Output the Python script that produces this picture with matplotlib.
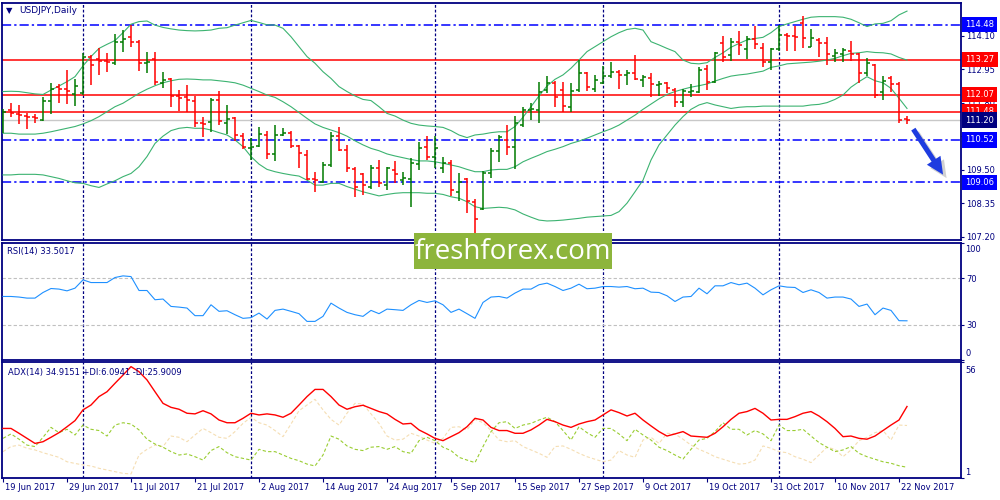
import numpy as np
import matplotlib.pyplot as plt
import matplotlib.transforms as mtransforms
from matplotlib.patches import Rectangle, FancyArrowPatch

# ---- USDJPY daily bars, 19 Jun 2017 .. 23 Nov 2017 ----
open_ = np.array([
    111.15, 111.55, 111.41, 111.34, 111.30, 111.19, 111.87, 112.32, 112.27, 112.08,
    112.12, 113.37, 113.28, 113.24, 113.15, 113.88, 114.04, 113.89, 113.17, 113.28,
    112.48, 112.60, 112.03, 111.98, 111.87, 111.09, 111.13, 111.89, 111.09, 111.26,
    110.65, 110.26, 110.31, 110.69, 110.04, 110.68, 110.77, 110.31, 110.01, 109.17,
    109.09, 109.66, 110.66, 110.17, 109.51, 109.35, 108.90, 109.55, 108.99, 109.48,
    109.14, 109.17, 109.69, 110.27, 109.95, 109.55, 109.72, 108.74, 109.17, 108.40,
    108.14, 109.39, 110.15, 110.52, 110.27, 111.03, 111.55, 111.55, 112.23, 112.48,
    112.23, 111.66, 112.23, 112.83, 112.27, 112.48, 112.72, 112.86, 112.74, 112.83,
    112.58, 112.63, 112.40, 112.46, 112.23, 111.82, 112.17, 112.17, 112.94, 112.52,
    113.83, 113.43, 113.89, 113.63, 113.97, 113.66, 113.20, 113.63, 114.12, 114.09,
    114.54, 113.72, 113.95, 113.86, 113.40, 113.47, 113.58, 113.47, 112.80, 113.09,
    112.17, 112.63, 112.44, 111.23])
high = np.array([
    111.57, 111.78, 111.72, 111.46, 111.41, 111.98, 112.48, 112.43, 112.92, 112.61,
    113.49, 113.43, 113.66, 113.49, 114.15, 114.29, 114.48, 113.95, 113.55, 113.55,
    112.85, 112.66, 112.23, 112.39, 112.03, 111.30, 111.95, 112.20, 111.72, 111.30,
    110.77, 110.58, 110.98, 110.84, 111.03, 110.93, 110.84, 110.35, 110.17, 109.41,
    109.77, 110.80, 110.95, 110.35, 109.58, 109.40, 109.66, 109.83, 109.60, 109.81,
    109.42, 109.89, 110.46, 110.66, 110.66, 109.95, 109.83, 109.37, 109.23, 108.48,
    109.46, 110.23, 110.69, 111.03, 111.34, 111.64, 111.78, 112.52, 112.72, 112.55,
    112.52, 112.48, 113.26, 112.86, 112.75, 113.06, 113.19, 112.92, 112.92, 113.43,
    112.75, 112.83, 112.55, 112.52, 112.29, 112.26, 112.44, 113.03, 113.09, 113.55,
    114.09, 114.00, 114.27, 114.09, 114.43, 113.83, 113.69, 114.46, 114.20, 114.43,
    114.77, 114.31, 114.00, 114.04, 113.63, 113.69, 113.92, 113.49, 113.32, 113.12,
    112.71, 112.71, 112.52, 111.34])
low = np.array([
    110.75, 111.30, 111.07, 110.91, 111.11, 111.17, 111.41, 111.80, 111.75, 111.70,
    112.06, 112.40, 112.75, 112.85, 113.09, 113.54, 113.70, 112.90, 112.83, 112.40,
    112.30, 111.66, 111.52, 111.48, 110.98, 110.61, 110.80, 111.03, 110.72, 110.49,
    110.20, 109.83, 110.27, 109.85, 109.81, 110.66, 110.24, 109.55, 109.14, 108.72,
    109.03, 109.60, 110.15, 109.43, 108.57, 108.62, 108.84, 108.89, 108.80, 109.05,
    108.97, 108.23, 109.49, 109.83, 109.55, 109.37, 108.60, 108.44, 108.02, 107.34,
    108.11, 109.23, 109.77, 110.00, 109.51, 110.98, 111.20, 111.09, 112.12, 111.64,
    111.48, 111.48, 112.18, 112.21, 112.17, 112.44, 112.64, 112.28, 112.39, 112.57,
    112.32, 111.98, 112.04, 112.12, 111.66, 111.64, 111.98, 112.12, 112.23, 112.48,
    113.20, 113.24, 113.43, 113.28, 113.63, 113.03, 112.92, 113.58, 113.58, 113.58,
    113.66, 113.70, 113.37, 113.09, 113.20, 113.20, 113.24, 112.48, 112.71, 111.95,
    111.89, 112.18, 111.11, 111.07])
close = np.array([
    111.48, 111.43, 111.36, 111.30, 111.26, 111.87, 112.28, 112.28, 112.20, 112.37,
    113.35, 113.09, 113.24, 113.19, 113.87, 113.97, 113.89, 113.17, 113.18, 112.52,
    112.57, 112.03, 111.96, 111.89, 111.09, 111.07, 111.89, 111.17, 111.23, 110.69,
    110.29, 110.27, 110.72, 110.04, 110.69, 110.75, 110.31, 110.06, 109.17, 109.14,
    109.66, 110.66, 110.17, 109.55, 108.92, 108.97, 109.55, 109.05, 109.55, 109.35,
    109.20, 109.72, 110.23, 109.95, 110.25, 109.74, 108.80, 109.09, 108.44, 107.80,
    109.39, 110.15, 110.61, 110.27, 111.09, 111.55, 111.57, 112.18, 112.48, 111.98,
    111.69, 112.21, 112.80, 112.32, 112.58, 112.72, 112.85, 112.75, 112.80, 112.62,
    112.67, 112.44, 112.44, 112.29, 111.82, 112.21, 112.19, 112.92, 112.52, 113.49,
    113.38, 113.89, 113.77, 113.97, 113.81, 113.18, 113.63, 114.12, 114.09, 114.06,
    114.00, 114.00, 113.86, 113.47, 113.51, 113.60, 113.47, 112.83, 113.15, 112.06,
    112.55, 112.44, 111.20, 111.20])

# Bollinger Bands(20, 2) as drawn
bb_upper = np.array([
    112.18, 112.19, 112.18, 112.14, 112.10, 112.08, 112.23, 112.37, 112.52, 112.69,
    113.06, 113.38, 113.66, 113.80, 113.93, 114.20, 114.49, 114.58, 114.60, 114.46,
    114.38, 114.33, 114.29, 114.27, 114.26, 114.27, 114.29, 114.35, 114.37, 114.46,
    114.54, 114.62, 114.55, 114.47, 114.46, 114.35, 114.06, 113.72, 113.38, 113.15,
    112.86, 112.63, 112.35, 112.18, 112.03, 111.91, 111.87, 111.66, 111.43, 111.34,
    111.20, 111.09, 111.03, 111.00, 110.98, 110.95, 110.84, 110.69, 110.60, 110.69,
    110.72, 110.77, 110.80, 110.80, 110.98, 111.30, 111.66, 112.03, 112.37, 112.60,
    112.75, 112.98, 113.26, 113.55, 113.72, 113.89, 114.06, 114.20, 114.31, 114.35,
    114.29, 113.89, 113.78, 113.66, 113.55, 113.26, 113.15, 113.13, 113.17, 113.35,
    113.51, 113.70, 113.83, 113.95, 114.00, 114.04, 114.20, 114.41, 114.50, 114.58,
    114.66, 114.73, 114.75, 114.75, 114.75, 114.73, 114.66, 114.54, 114.41, 114.50,
    114.52, 114.61, 114.81, 114.94])
bb_middle = np.array([
    110.75, 110.75, 110.72, 110.72, 110.72, 110.75, 110.80, 110.86, 110.92, 110.98,
    111.07, 111.18, 111.32, 111.49, 111.66, 111.78, 111.95, 112.12, 112.26, 112.38,
    112.48, 112.55, 112.60, 112.61, 112.60, 112.58, 112.58, 112.55, 112.52, 112.48,
    112.40, 112.29, 112.18, 112.06, 111.98, 111.83, 111.66, 111.46, 111.26, 111.07,
    110.95, 110.86, 110.77, 110.65, 110.49, 110.35, 110.23, 110.15, 110.04, 109.97,
    109.91, 109.85, 109.80, 109.80, 109.77, 109.72, 109.66, 109.60, 109.51, 109.43,
    109.43, 109.49, 109.51, 109.51, 109.60, 109.77, 109.89, 110.00, 110.12, 110.20,
    110.29, 110.40, 110.48, 110.58, 110.69, 110.80, 110.90, 111.03, 111.20, 111.37,
    111.57, 111.75, 111.93, 112.08, 112.18, 112.26, 112.33, 112.38, 112.44, 112.54,
    112.63, 112.71, 112.75, 112.78, 112.83, 112.88, 113.01, 113.06, 113.13, 113.15,
    113.17, 113.19, 113.22, 113.26, 113.32, 113.41, 113.49, 113.51, 113.55, 113.52,
    113.51, 113.47, 113.35, 113.26])
bb_lower = np.array([
    109.32, 109.32, 109.34, 109.34, 109.34, 109.32, 109.26, 109.20, 109.12, 109.05,
    109.03, 108.95, 108.89, 109.01, 109.12, 109.26, 109.37, 109.60, 109.95, 110.40,
    110.65, 110.84, 110.92, 110.95, 110.92, 110.92, 110.86, 110.77, 110.69, 110.52,
    110.29, 109.95, 109.69, 109.51, 109.43, 109.37, 109.32, 109.28, 109.14, 108.97,
    108.97, 109.03, 109.03, 108.92, 108.83, 108.74, 108.67, 108.60, 108.65, 108.69,
    108.71, 108.71, 108.71, 108.69, 108.69, 108.65, 108.57, 108.52, 108.40, 108.23,
    108.17, 108.19, 108.21, 108.19, 108.12, 107.98, 107.87, 107.77, 107.74, 107.75,
    107.77, 107.80, 107.83, 107.87, 107.89, 107.91, 107.93, 108.06, 108.35, 108.74,
    109.14, 109.83, 110.35, 110.69, 111.03, 111.32, 111.57, 111.72, 111.80, 111.72,
    111.66, 111.60, 111.64, 111.66, 111.66, 111.68, 111.68, 111.68, 111.68, 111.68,
    111.68, 111.72, 111.74, 111.80, 111.91, 112.06, 112.33, 112.52, 112.69, 112.55,
    112.48, 112.29, 111.95, 111.60])

rsi = np.array([
    54.3, 54.3, 53.8, 52.9, 52.9, 57.7, 61.1, 60.6, 59.1, 61.4,
    68.5, 66.2, 66.2, 66.2, 70.5, 71.9, 71.3, 59.4, 59.4, 51.5,
    52.1, 45.8, 45.2, 44.4, 37.9, 37.9, 47.2, 41.6, 42.1, 38.7,
    35.6, 36.2, 40.1, 35.0, 42.4, 43.5, 41.6, 39.6, 33.0, 33.0,
    37.3, 48.6, 44.4, 40.7, 38.7, 37.3, 42.4, 39.6, 43.5, 43.0,
    42.4, 47.2, 50.9, 49.2, 50.6, 47.2, 40.7, 43.5, 39.6, 35.6,
    49.2, 53.8, 54.3, 52.9, 57.2, 60.6, 60.6, 64.3, 65.7, 62.8,
    59.4, 61.4, 64.8, 60.9, 61.4, 62.8, 62.8, 62.3, 62.8, 60.9,
    61.4, 58.0, 57.7, 54.9, 50.0, 53.8, 54.3, 61.4, 56.6, 63.4,
    63.4, 66.2, 64.3, 65.7, 61.4, 55.7, 60.0, 63.4, 62.3, 62.0,
    57.7, 60.0, 57.7, 52.9, 53.8, 53.8, 52.1, 45.8, 47.8, 38.7,
    44.4, 42.4, 33.6, 33.5])

adx = np.array([
    24.5, 24.5, 22.2, 19.8, 17.4, 18.2, 20.3, 22.5, 25.3, 28.2,
    33.3, 35.6, 39.6, 41.9, 45.9, 49.8, 53.8, 51.4, 47.5, 41.9,
    36.4, 34.5, 33.6, 31.7, 31.4, 32.9, 31.4, 28.5, 27.2, 27.2,
    29.3, 31.7, 30.9, 31.4, 30.9, 29.8, 31.7, 35.6, 39.6, 43.0,
    43.0, 39.6, 35.6, 33.6, 34.8, 35.5, 34.0, 32.5, 31.4, 28.8,
    26.6, 26.9, 23.8, 21.9, 19.8, 18.7, 20.6, 22.5, 25.3, 29.3,
    28.5, 25.0, 23.5, 23.5, 22.2, 22.2, 23.8, 26.1, 28.8, 27.7,
    26.1, 25.0, 26.6, 27.7, 28.5, 30.9, 33.3, 32.0, 30.4, 31.7,
    28.5, 25.7, 23.0, 20.9, 21.9, 23.0, 20.9, 20.6, 20.3, 22.2,
    25.3, 28.8, 31.7, 32.5, 34.0, 31.7, 28.5, 28.8, 28.8, 30.1,
    31.7, 32.5, 30.4, 27.7, 24.5, 20.6, 20.9, 19.8, 19.4, 20.9,
    23.5, 26.1, 28.5, 34.9])
plus_di = np.array([
    19.8, 21.9, 19.4, 16.6, 15.9, 20.3, 25.0, 22.5, 24.1, 21.4,
    26.1, 24.1, 23.5, 20.9, 26.1, 27.2, 26.6, 23.8, 19.4, 17.1,
    15.6, 13.5, 11.9, 12.4, 11.1, 9.5, 14.0, 15.9, 13.0, 11.1,
    10.3, 9.5, 14.6, 13.5, 13.5, 11.9, 10.3, 9.2, 7.6, 6.7,
    11.9, 20.9, 19.4, 16.2, 14.6, 14.0, 15.6, 15.9, 14.6, 15.9,
    13.5, 12.7, 18.7, 20.3, 18.7, 15.6, 14.0, 10.8, 9.5, 8.3,
    15.9, 23.0, 27.2, 27.7, 24.5, 26.1, 26.9, 28.5, 29.8, 27.7,
    23.5, 19.0, 25.3, 22.5, 20.3, 24.5, 24.5, 21.9, 18.7, 24.1,
    21.4, 19.0, 15.6, 14.0, 11.9, 10.0, 14.6, 19.0, 19.8, 23.0,
    27.2, 24.1, 24.1, 21.4, 23.5, 21.9, 18.7, 26.1, 23.5, 23.5,
    24.1, 20.9, 17.8, 15.6, 13.5, 14.3, 15.9, 12.7, 11.1, 9.9,
    8.7, 8.0, 6.8, 6.1])
minus_di = np.array([
    13.5, 15.9, 16.6, 15.1, 14.3, 13.0, 11.9, 10.8, 8.7, 7.9,
    7.2, 6.7, 5.6, 4.8, 4.0, 3.2, 2.9, 11.9, 14.6, 16.6,
    15.9, 20.9, 20.3, 18.2, 21.4, 24.5, 22.5, 20.3, 19.8, 23.0,
    26.9, 29.8, 27.2, 26.1, 23.5, 20.6, 26.6, 32.9, 35.6, 38.3,
    33.3, 28.8, 26.1, 31.7, 36.4, 36.1, 31.4, 26.9, 20.9, 19.0,
    19.4, 22.2, 20.9, 19.0, 17.4, 19.8, 25.0, 25.3, 23.8, 28.8,
    27.2, 23.5, 19.0, 18.2, 18.7, 15.9, 14.3, 12.7, 10.8, 15.9,
    16.2, 14.6, 12.7, 11.1, 9.9, 8.7, 9.5, 14.0, 11.9, 10.8,
    19.0, 20.3, 17.4, 22.2, 21.9, 19.4, 16.6, 14.6, 13.0, 11.1,
    9.9, 8.7, 7.6, 7.9, 9.5, 16.2, 15.1, 13.5, 13.0, 11.1,
    9.9, 8.3, 11.9, 15.6, 14.6, 11.1, 14.3, 18.7, 20.3, 22.5,
    23.5, 19.0, 26.1, 25.9])

date_labels = ['19 Jun 2017', '29 Jun 2017', '11 Jul 2017', '21 Jul 2017', '2 Aug 2017',
               '14 Aug 2017', '24 Aug 2017', '5 Sep 2017', '15 Sep 2017', '27 Sep 2017',
               '9 Oct 2017', '19 Oct 2017', '31 Oct 2017', '10 Nov 2017', '22 Nov 2017']
month_starts = [10, 31, 54, 75, 97]   # first bar of Jul, Aug, Sep, Oct, Nov

red_levels = [113.27, 112.07, 111.48]
blue_levels = [114.48, 110.52, 109.06]
last_price = 111.20
price_ticks = [114.10, 112.95, 111.80, 110.65, 109.50, 108.35, 107.20]

# forecast arrow (bar index, price)
arrow_from = (113.6, 110.97)
arrow_to = (117.7, 109.25)

NAVY = '#000080'
GREEN = '#007A00'
RED = '#FF0000'
BLUE = '#0000FF'
BB = '#3CB371'
W, H = 1000, 500

fig = plt.figure(figsize=(10, 5), dpi=100)
fig.patch.set_facecolor('white')


def px_axes(top, bottom, left=2, right=961):
    return fig.add_axes([left / W, 1 - bottom / H, (right - left) / W, (bottom - top) / H])


ax_p = px_axes(2.5, 240)
ax_r = px_axes(243, 360)
ax_a = px_axes(362, 478)
idx = np.arange(len(close))

for ax in (ax_p, ax_r, ax_a):
    ax.set_xlim(-0.125, 119.75)
    for s in ax.spines.values():
        s.set_color(NAVY)
        s.set_linewidth(1.3)
    ax.tick_params(axis='y', left=False, labelleft=False, right=True, labelright=True,
                   length=2.5, width=0.8, colors=NAVY, labelsize=6, pad=1.5)
    ax.tick_params(axis='x', bottom=False, labelbottom=False)
    for m in month_starts:
        ax.axvline(m, color=NAVY, lw=0.9, ls=(0, (2.2, 1.6)), zorder=1)

# ---- price panel ----
ax_p.set_ylim(107.087, 115.235)
for lv in red_levels:
    ax_p.axhline(lv, color=RED, lw=1.1, zorder=2)
for lv in blue_levels:
    ax_p.axhline(lv, color=BLUE, lw=1.1, ls=(0, (6, 2, 1.5, 2)), zorder=2)
ax_p.axhline(last_price, color='#C8C8C8', lw=1.0, zorder=1.5)

ax_p.plot(idx, bb_upper, color=BB, lw=0.8, zorder=3)
ax_p.plot(idx, bb_middle, color=BB, lw=0.8, zorder=3)
ax_p.plot(idx, bb_lower, color=BB, lw=0.8, zorder=3)

bar_col = np.where(close >= open_, GREEN, RED)
ax_p.vlines(idx, low, high, colors=bar_col, lw=1.1, zorder=4)
ax_p.hlines(open_, idx - 0.38, idx, colors=bar_col, lw=1.1, zorder=4)
ax_p.hlines(close, idx, idx + 0.38, colors=bar_col, lw=1.1, zorder=4)

ax_p.set_yticks(price_ticks)
ax_p.set_yticklabels([f'{t:.2f}' for t in price_ticks])

trans_p = mtransforms.blended_transform_factory(ax_p.transAxes, ax_p.transData)
box_levels = [(lv, BLUE) for lv in blue_levels] + [(lv, RED) for lv in red_levels] + [(last_price, NAVY)]
for lv, fc in box_levels:
    ax_p.text(1.0045, lv, f'{lv:.2f}', transform=trans_p, ha='left', va='center',
              fontsize=6, color='white', clip_on=False, zorder=6,
              bbox=dict(boxstyle='square,pad=0.38', fc=fc, ec='none'))

shadow_tr = ax_p.transData + mtransforms.ScaledTranslation(2.5 / 72, -2.5 / 72, fig.dpi_scale_trans)
arrow_style = 'simple,head_length=0.95,head_width=0.9,tail_width=0.28'
ax_p.add_patch(FancyArrowPatch(arrow_from, arrow_to, arrowstyle=arrow_style, mutation_scale=13,
                               color='#9A9A9A', alpha=0.45, lw=0, transform=shadow_tr, zorder=5))
ax_p.add_patch(FancyArrowPatch(arrow_from, arrow_to, arrowstyle=arrow_style, mutation_scale=13,
                               color='#1E3CE0', lw=0, zorder=6))

# ---- RSI panel ----
ax_r.set_ylim(0, 100)
for lv in (70, 30):
    ax_r.axhline(lv, color='#C0C0C0', lw=0.8, ls=(0, (3, 2)), zorder=1)
ax_r.plot(idx, rsi, color='#1E90FF', lw=0.8, zorder=3)
ax_r.set_yticks([100, 70, 30, 0])
ax_r.set_yticklabels(['', '70', '30', ''])
tr_r = mtransforms.blended_transform_factory(ax_r.transAxes, ax_r.transData)
ax_r.text(1.0045, 94.6, '100', transform=tr_r, ha='left', va='center', fontsize=6, color=NAVY, clip_on=False)
ax_r.text(1.0045, 5.8, '0', transform=tr_r, ha='left', va='center', fontsize=6, color=NAVY, clip_on=False)

# ---- ADX panel ----
ax_a.set_ylim(1, 56)
ax_a.plot(idx, minus_di, color='#F5DEB3', lw=0.8, ls=(0, (3, 2)), zorder=2)
ax_a.plot(idx, plus_di, color='#9ACD32', lw=0.8, ls=(0, (3, 2)), zorder=2)
ax_a.plot(idx, adx, color=RED, lw=1.0, zorder=3)
ax_a.set_yticks([56, 1])
ax_a.set_yticklabels(['', ''])
tr_a = mtransforms.blended_transform_factory(ax_a.transAxes, ax_a.transData)
ax_a.text(1.0045, 52.2, '56', transform=tr_a, ha='left', va='center', fontsize=6, color=NAVY, clip_on=False)
ax_a.text(1.0045, 3.6, '1', transform=tr_a, ha='left', va='center', fontsize=6, color=NAVY, clip_on=False)

date_pos = np.arange(len(date_labels)) * 8
ax_a.set_xticks(date_pos)
ax_a.tick_params(axis='x', bottom=True, length=3, width=0.8, color=NAVY, direction='out')
tr_x = mtransforms.blended_transform_factory(ax_a.transData, ax_a.transAxes)
for p, lab in zip(date_pos, date_labels):
    ax_a.text(p + 0.3, -0.045, lab, transform=tr_x, ha='left', va='top', fontsize=6,
              color=NAVY, clip_on=False)

# ---- window captions ----
fig.text(6 / W, 1 - 10.5 / H, '\u25bc', fontsize=6, color=NAVY, ha='left', va='center')
fig.text(19 / W, 1 - 10.5 / H, 'USDJPY,Daily', fontsize=6.5, color=NAVY, ha='left', va='center')
fig.text(7 / W, 1 - 251.5 / H, 'RSI(14) 33.5017', fontsize=6, color=NAVY, ha='left', va='center')
fig.text(8 / W, 1 - 372.5 / H, 'ADX(14) 34.9151 +DI:6.0941 -DI:25.9009', fontsize=6,
         color=NAVY, ha='left', va='center')

# ---- watermark ----
fig.add_artist(Rectangle((414 / W, 1 - 269 / H), 198 / W, 36 / H, transform=fig.transFigure,
                         facecolor='#8DB53C', edgecolor='none', zorder=10))
fig.text(513 / W, 1 - 259 / H, 'freshforex.com', fontsize=20, family='Open Sans',
         color='white', ha='center', va='baseline', zorder=11)

fig.savefig('out.png', dpi=100, facecolor='white')
